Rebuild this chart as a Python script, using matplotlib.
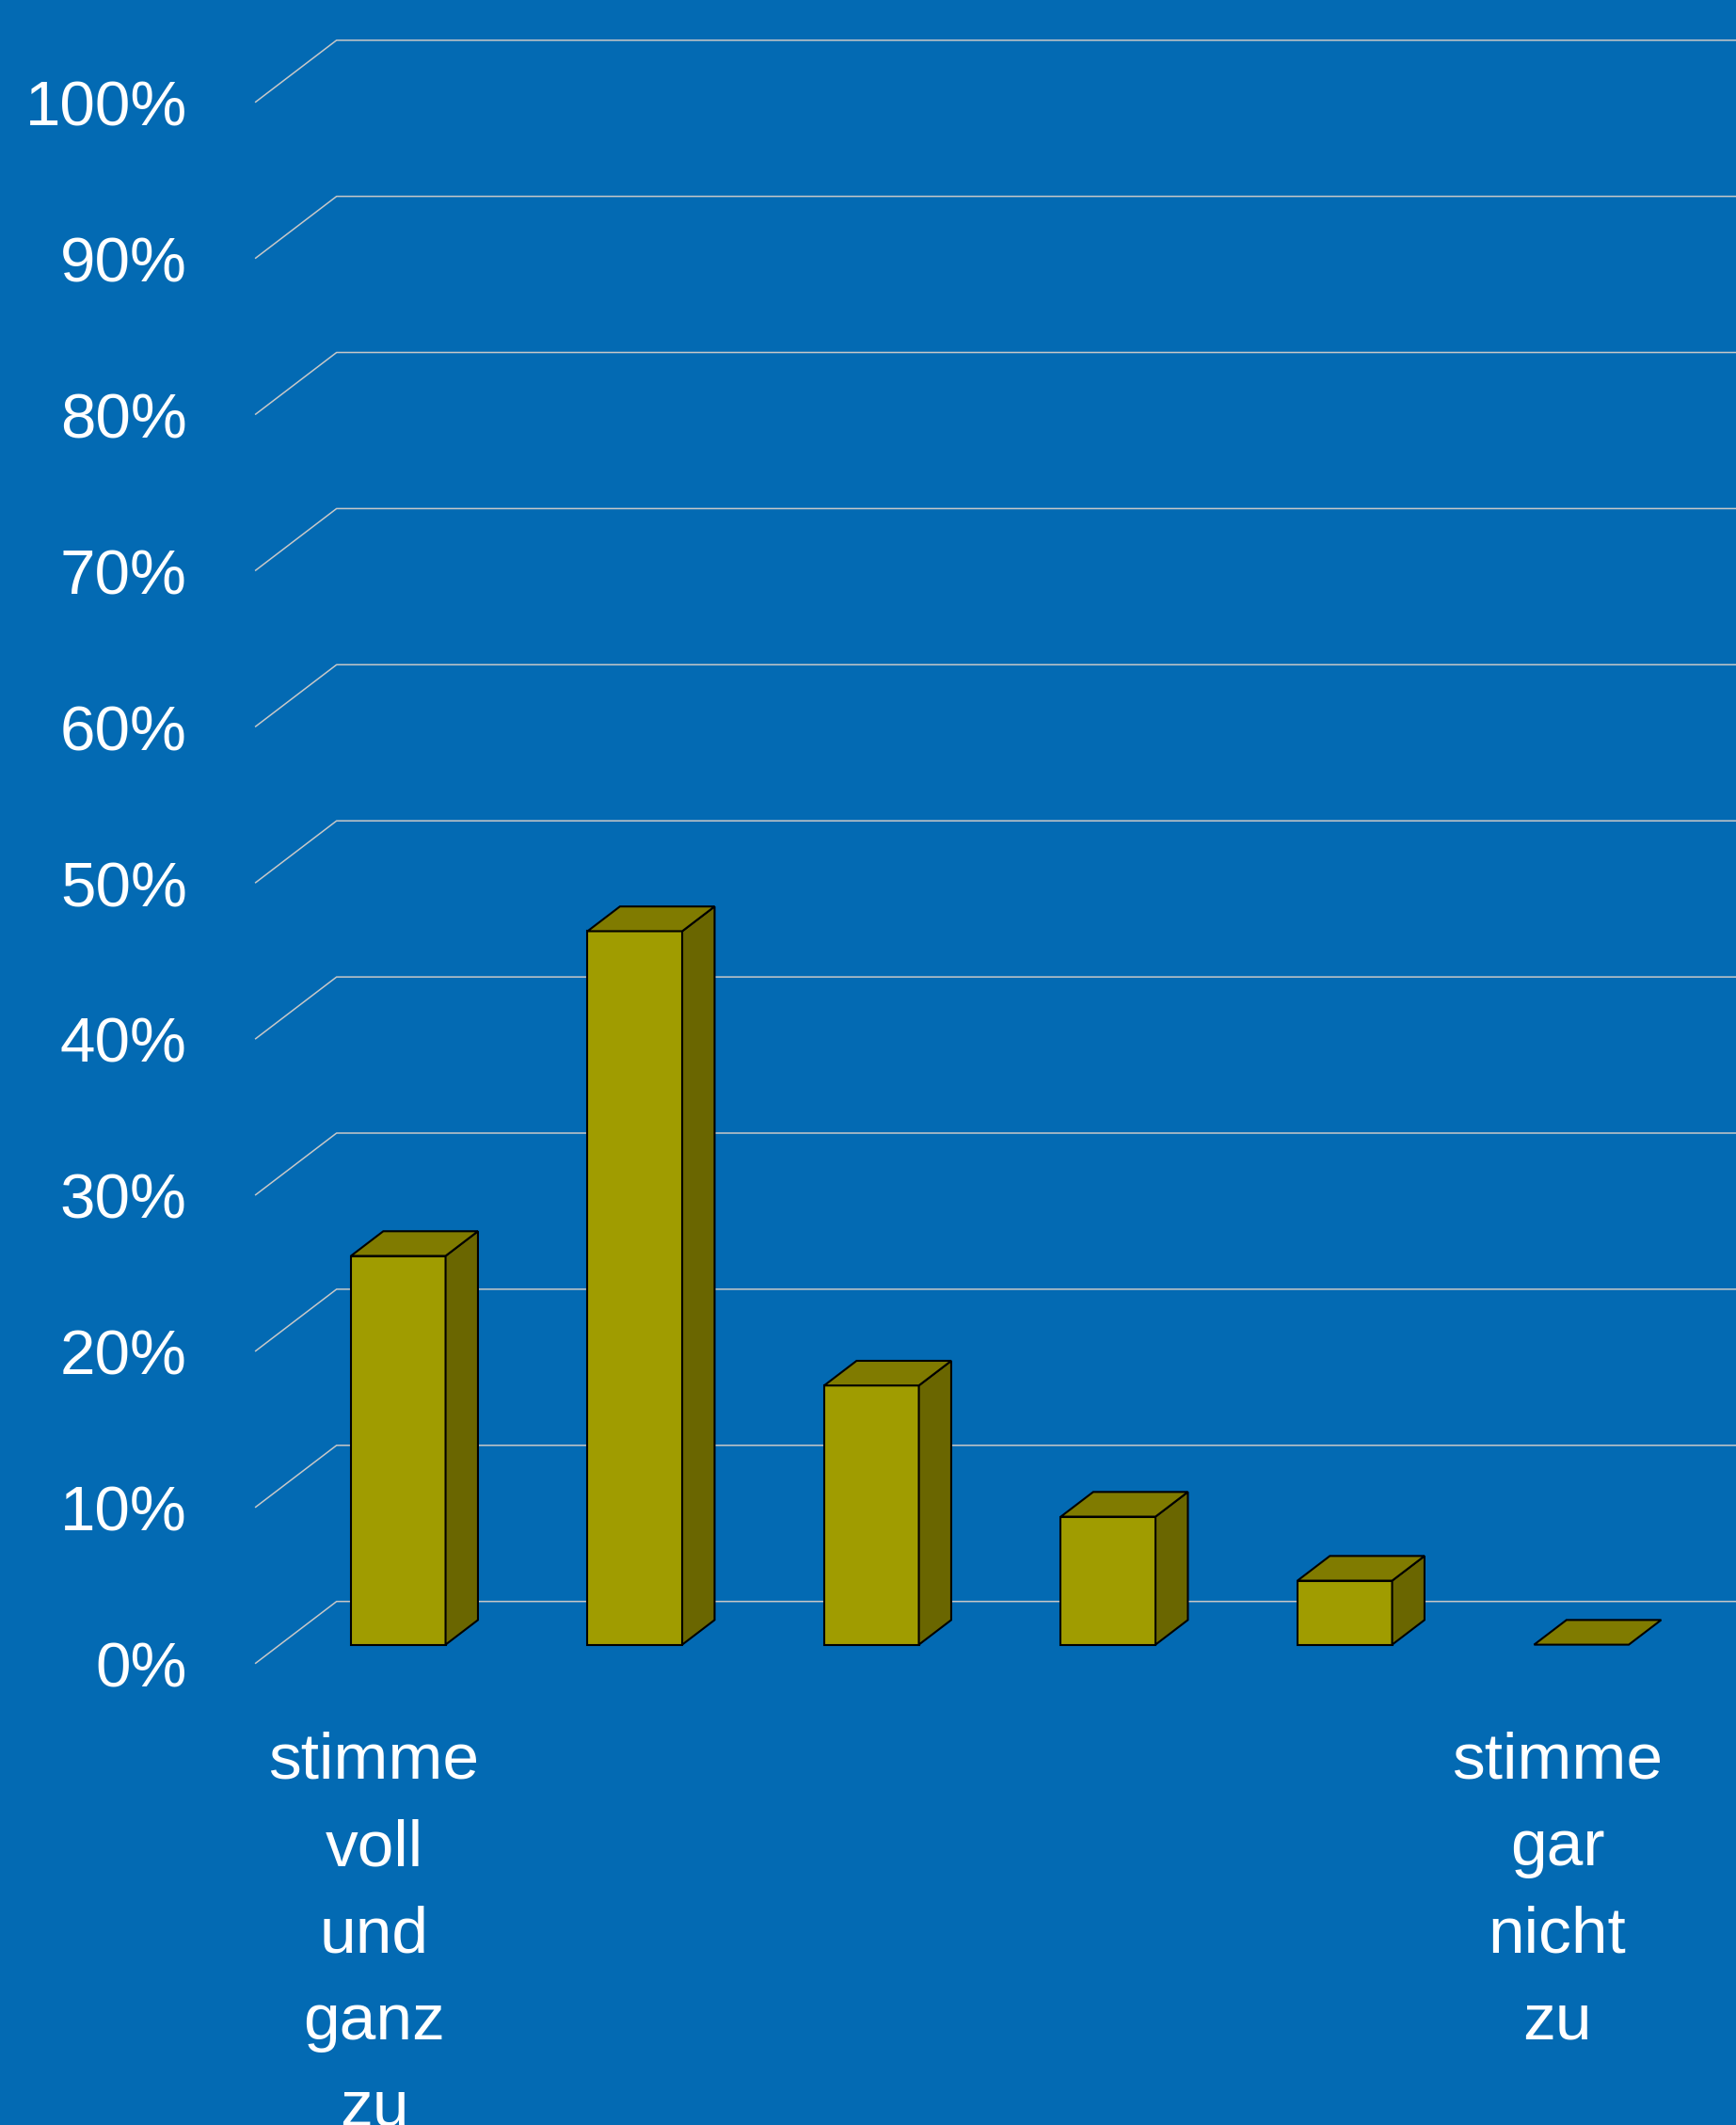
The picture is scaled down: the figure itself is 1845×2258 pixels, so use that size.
import matplotlib.pyplot as plt
from matplotlib.patches import Polygon

plt.rc('font', family=['Liberation Sans', 'DejaVu Sans'], size=50)

# data
categories = ["stimme\nvoll\nund\nganz\nzu", "", "", "", "", "stimme\ngar\nnicht\nzu"]
values = [24.9, 45.7, 16.6, 8.2, 4.1, 0.0]
ticks = [0, 10, 20, 30, 40, 50, 60, 70, 80, 90, 100]
tick_labels = [f"{t}%" for t in ticks]

# look
bg = '#036AB3'
front_col = '#A09C00'
top_col = '#807B00'
side_col = '#6A6600'
grid_col = '#C8C8C8'

DX, DY = 0.342, 3.954   # offset of the back wall (x in categories, y in %)
z0, z1 = 0.3, 0.7       # depth range of the bars
bw = 0.4                # bar width

fig = plt.figure(figsize=(18.45, 22.58), dpi=100, facecolor=bg)
ax = fig.add_axes([0, 0, 1, 1])
ax.set_facecolor(bg)
ax.set_xlim(-1.0803, 6.2557)
ax.set_ylim(-29.58, 106.53)
ax.axis('off')
xmax = ax.get_xlim()[1]

# gridlines: diagonal on the side wall, then flat on the back wall
for t, lab in zip(ticks, tick_labels):
    ax.plot([0, DX, xmax], [t, t + DY, t + DY], color=grid_col, lw=1.1, zorder=1)
    ax.text(-0.29, t - 0.5, lab, color='white', ha='right', va='center',
            fontsize=48.5)

# 3d bars
dx, dy = (z1 - z0) * DX, (z1 - z0) * DY
for i, v in enumerate(values):
    x = i + 0.5 - bw / 2 + z0 * DX
    y0 = z0 * DY
    y1 = y0 + v
    kw = dict(edgecolor='black', lw=1.5, joinstyle='miter', zorder=3)
    if v > 0:
        ax.add_patch(Polygon([(x, y0), (x + bw, y0), (x + bw, y1), (x, y1)],
                             facecolor=front_col, **kw))
        ax.add_patch(Polygon([(x + bw, y0), (x + bw + dx, y0 + dy),
                              (x + bw + dx, y1 + dy), (x + bw, y1)],
                             facecolor=side_col, **kw))
    ax.add_patch(Polygon([(x, y1), (x + bw, y1), (x + bw + dx, y1 + dy),
                          (x + dx, y1 + dy)], facecolor=top_col, **kw))

# category labels
for i, lab in enumerate(categories):
    if lab:
        ax.text(i + 0.5, -4.38, lab, color='white', ha='center', va='top',
                linespacing=1.565)

fig.savefig('out.png', dpi=100, facecolor=bg)
